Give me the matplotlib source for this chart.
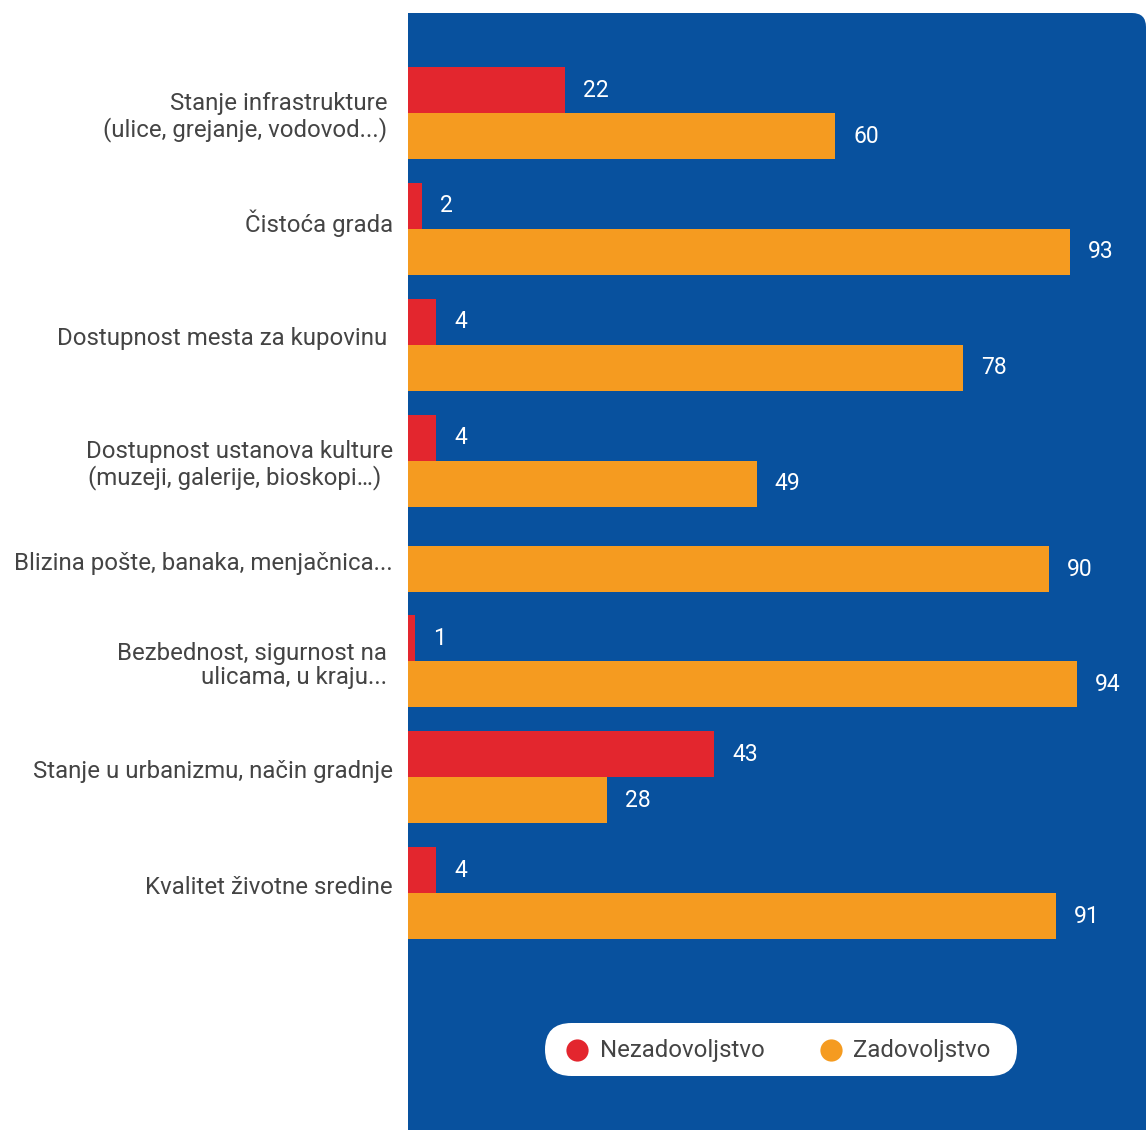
import numpy as np
import matplotlib
matplotlib.use('Agg')
import matplotlib.pyplot as plt
from matplotlib.patches import FancyBboxPatch

plt.rcParams['font.family'] = ['Roboto', 'DejaVu Sans']

# Data
categories = [
    'Stanje infrastrukture \n(ulice, grejanje, vodovod...) ',
    'Čistoća grada',
    'Dostupnost mesta za kupovinu ',
    'Dostupnost ustanova kulture\n(muzeji, galerije, bioskopi…)  ',
    'Blizina pošte, banaka, menjačnica...',
    'Bezbednost, sigurnost na \nulicama, u kraju... ',
    'Stanje u urbanizmu, način gradnje',
    'Kvalitet životne sredine',
]
nezadovoljstvo = [22, 2, 4, 4, None, 1, 43, 4]
zadovoljstvo = [60, 93, 78, 49, 90, 94, 28, 91]
series_names = ['Nezadovoljstvo', 'Zadovoljstvo']

RED = '#e3262e'
ORANGE = '#f59b20'
BLUE = '#08519e'
TEXT = '#444444'

W, H = 1146, 1130
fig = plt.figure(figsize=(W / 100, H / 100), dpi=100)
fig.patch.set_facecolor('white')

# blue panel, only the top-right corner is rounded
panel_l, panel_t = 408, 13
aw, ah = W - panel_l, H - panel_t
ax = fig.add_axes([panel_l / W, 0, aw / W, ah / H])
ax.set_facecolor('none')
ax.axis('off')
panel = FancyBboxPatch((-0.1, -0.1), 1.1, 1.1,
                       boxstyle='round,pad=0,rounding_size=%f' % (14 / aw),
                       mutation_aspect=aw / ah, transform=ax.transAxes,
                       facecolor=BLUE, edgecolor='none', zorder=0)
ax.add_patch(panel)
panel.set_clip_path(ax.patch)

px_per_unit = 7.12
bar_px = 46
ax.set_xlim(0, aw / px_per_unit)
ax.set_ylim(ah / bar_px, 0)


def to_data(x, y):
    # figure pixel -> data coords
    return (x - panel_l) / px_per_unit, (y - panel_t) / bar_px


# vertical layout, in bar heights
pair_band = 2.52
single_band = 1.84
top = 1.174
lab_dx = 15 / px_per_unit
val_dx = 18 / px_per_unit
for i, cat in enumerate(categories):
    red = nezadovoljstvo[i]
    org = zadovoljstvo[i]
    if red is None:
        y_org = top + 0.34
        ax.barh(y_org, org, height=1.0, align='edge', color=ORANGE, zorder=2)
        ax.text(org + val_dx, y_org + 0.5, str(org), color='white',
                fontsize=16.5, va='center', ha='left', zorder=3)
        center = y_org + 0.5
        top += single_band
    else:
        ax.barh(top, red, height=1.0, align='edge', color=RED, zorder=2)
        ax.barh(top + 1.0, org, height=1.0, align='edge', color=ORANGE, zorder=2)
        ax.text(red + val_dx, top + 0.5, str(red), color='white',
                fontsize=16.5, va='center', ha='left', zorder=3)
        ax.text(org + val_dx, top + 1.5, str(org), color='white',
                fontsize=16.5, va='center', ha='left', zorder=3)
        center = top + 1.0
        top += pair_band
    shift = 0.09 if '\n' in cat else -0.13
    ax.text(-lab_dx, center + shift, cat, color=TEXT, fontsize=17.3,
            ha='right', va='center', multialignment='right', linespacing=1.1,
            clip_on=False)

# legend pill
lx0, ly0 = to_data(545, 1023)
lx1, ly1 = to_data(1017, 1076)
pill = FancyBboxPatch((lx0, ly0), lx1 - lx0, ly1 - ly0,
                      boxstyle='round,pad=0,rounding_size=%f' % (26.5 / px_per_unit),
                      mutation_aspect=px_per_unit / bar_px,
                      facecolor='white', edgecolor='none', zorder=4)
ax.add_patch(pill)
for name, col, cx, tx in zip(series_names, (RED, ORANGE), (577, 831), (600, 853)):
    mx, my = to_data(cx, 1050)
    ax.scatter([mx], [my], s=16 ** 2, color=col, zorder=5, linewidths=0)
    ax.text(to_data(tx, 0)[0], my, name, color=TEXT, fontsize=17.3,
            ha='left', va='center', zorder=5)

fig.savefig('out.png', dpi=100, facecolor='white')
